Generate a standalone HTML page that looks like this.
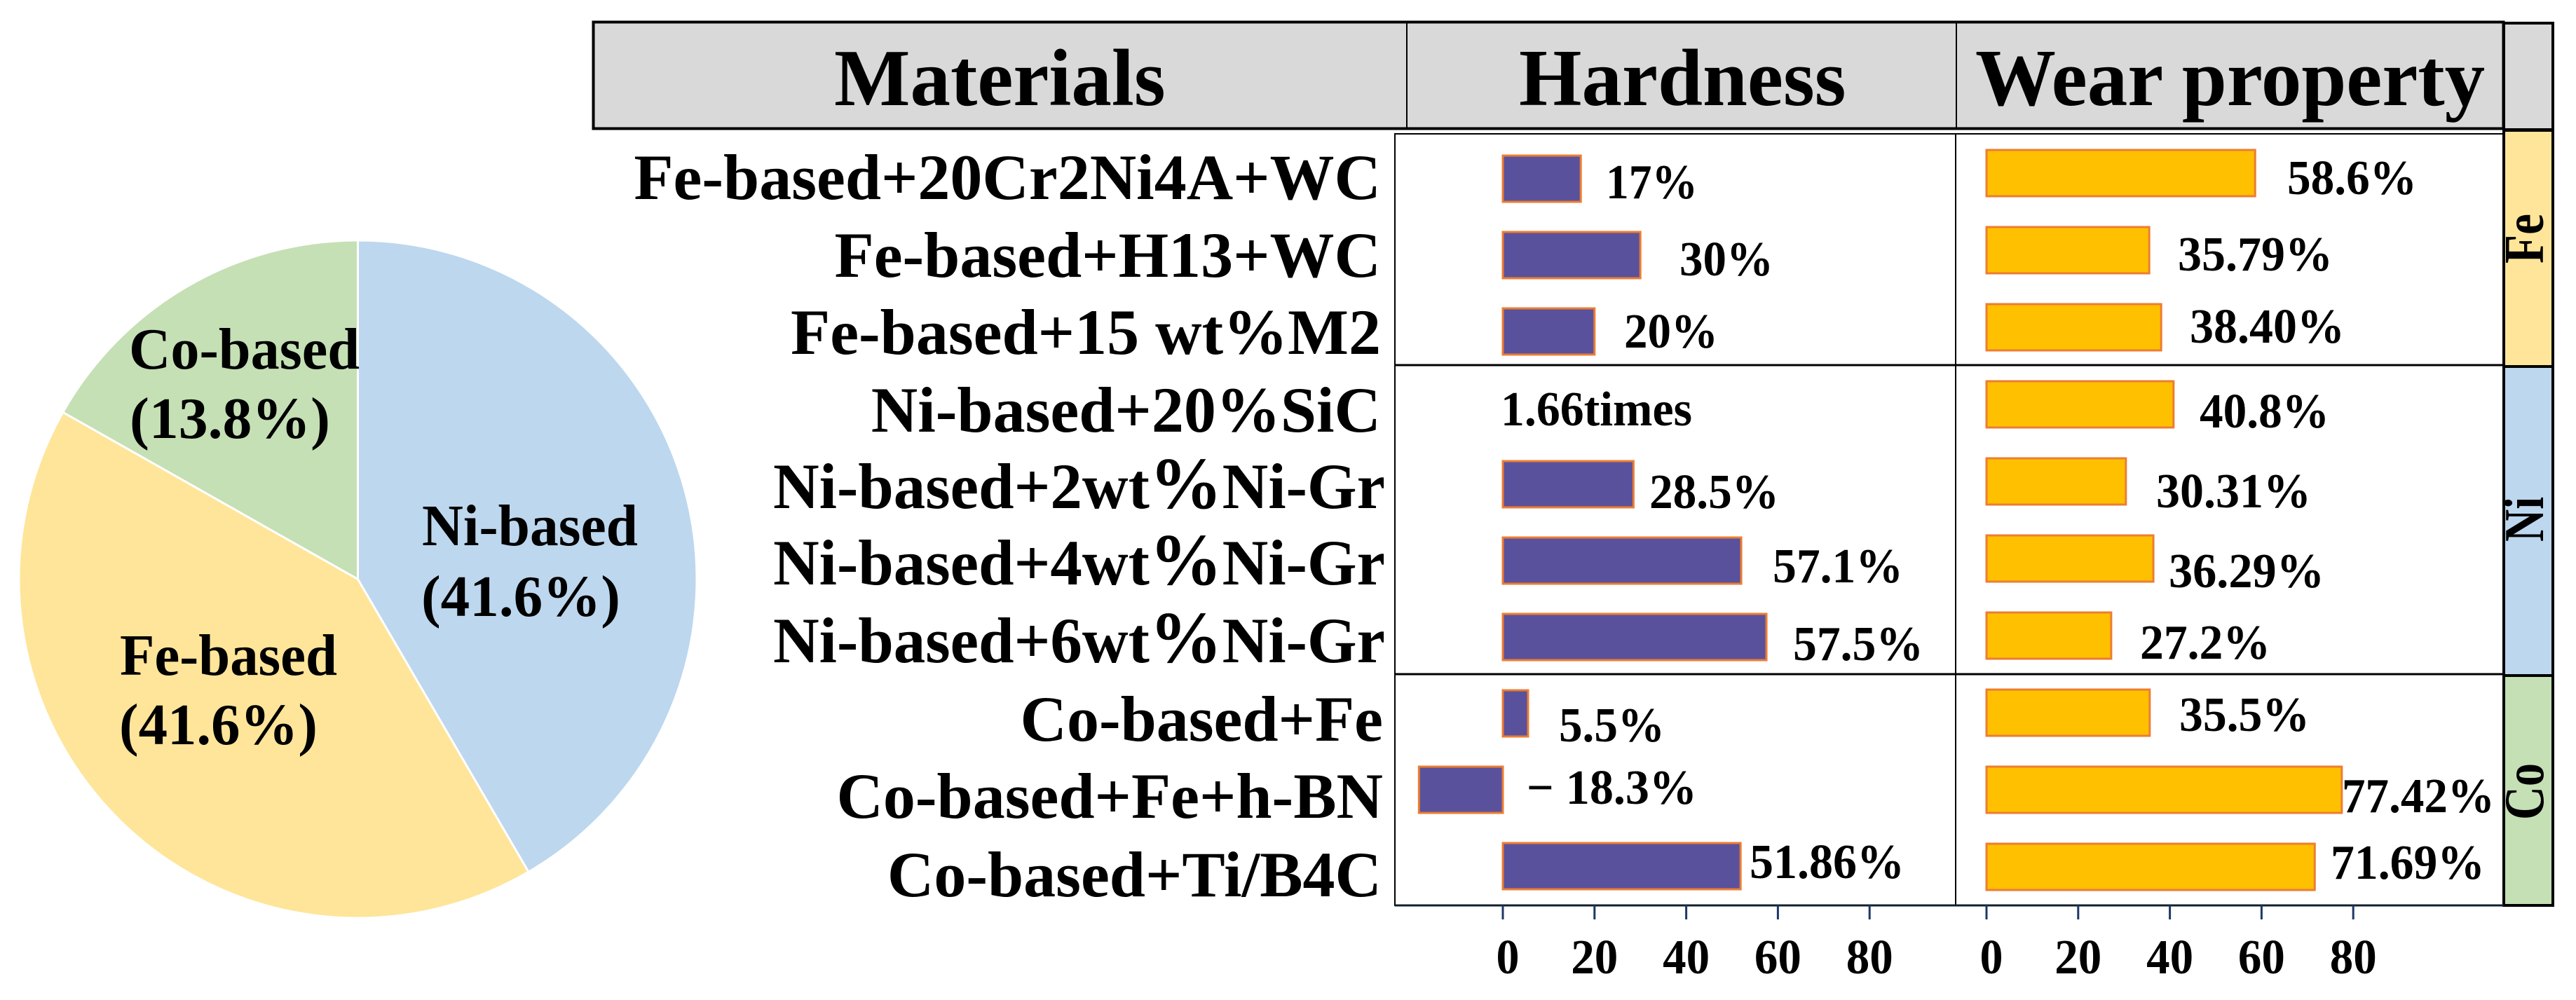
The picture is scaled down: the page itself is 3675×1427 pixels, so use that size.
<!DOCTYPE html>
<html lang="en">
<head>
<meta charset="utf-8">
<title>Materials hardness and wear property chart</title>
<style>
html,body{margin:0;padding:0;background:#fff;}
svg{display:block;}
text{font-family:"Liberation Serif","Noto Serif CJK SC",serif;font-weight:bold;fill:#000;}
.hdr{font-size:115px;}
.row{font-size:92px;text-anchor:end;}
.val{font-size:70px;}
.pl{font-size:84px;}
.tag{font-size:80px;}
</style>
</head>
<body>
<svg id="chart" xmlns="http://www.w3.org/2000/svg" width="3675" height="1427" viewBox="0 0 3675 1427">
  <g id="pie"></g>
  <g>
    <text class="pl" x="602" y="778" textLength="308" lengthAdjust="spacingAndGlyphs">Ni-based</text>
    <text class="pl" x="601" y="879" textLength="284" lengthAdjust="spacingAndGlyphs">(41.6%)</text>
    <text class="pl" x="171" y="963" textLength="310" lengthAdjust="spacingAndGlyphs">Fe-based</text>
    <text class="pl" x="170" y="1062" textLength="283" lengthAdjust="spacingAndGlyphs">(41.6%)</text>
    <text class="pl" x="184" y="526" textLength="329" lengthAdjust="spacingAndGlyphs">Co-based</text>
    <text class="pl" x="185" y="625" textLength="286" lengthAdjust="spacingAndGlyphs">(13.8%)</text>
  </g>

  <g>
    <rect x="846.5" y="31.5" width="2725" height="152" fill="#d9d9d9" stroke="#000" stroke-width="4"/>
    <line x1="2007" y1="31" x2="2007" y2="184" stroke="#000" stroke-width="2"/>
    <line x1="2791" y1="31" x2="2791" y2="184" stroke="#000" stroke-width="2"/>
    <text class="hdr" x="1190" y="150">Materials</text>
    <text class="hdr" x="2167" y="150">Hardness</text>
    <text class="hdr" x="2818" y="150">Wear property</text>
  </g>

  <g>
    <rect x="3572" y="33" width="70" height="152" fill="#d9d9d9" stroke="#000" stroke-width="4"/>
    <rect x="3572" y="186" width="70" height="337" fill="#fee599" stroke="#000" stroke-width="4"/>
    <rect x="3572" y="523" width="70" height="441" fill="#bdd7ee" stroke="#000" stroke-width="4"/>
    <rect x="3572" y="964" width="70" height="328" fill="#c5e0b4" stroke="#000" stroke-width="4"/>
    <text class="tag" transform="translate(3628,376) rotate(-90)" textLength="71" lengthAdjust="spacingAndGlyphs">Fe</text>
    <text class="tag" transform="translate(3628,773) rotate(-90)" textLength="64" lengthAdjust="spacingAndGlyphs">Ni</text>
    <text class="tag" transform="translate(3628,1170) rotate(-90)" textLength="81" lengthAdjust="spacingAndGlyphs">Co</text>
  </g>

  <g>
    <line x1="1990" y1="191" x2="3572" y2="191" stroke="#000" stroke-width="2"/>
    <line x1="1990" y1="190" x2="1990" y2="1293" stroke="#000" stroke-width="2"/>
    <line x1="2790" y1="190" x2="2790" y2="1293" stroke="#000" stroke-width="2"/>
    <line x1="1990" y1="521" x2="3572" y2="521" stroke="#000" stroke-width="3"/>
    <line x1="1990" y1="962" x2="3572" y2="962" stroke="#000" stroke-width="3"/>
    <line x1="1990" y1="1292" x2="3572" y2="1292" stroke="#10202f" stroke-width="3"/>
  </g>

  <g>
    <text class="row" x="1970" y="284">Fe-based+20Cr2Ni4A+WC</text>
    <text class="row" x="1970" y="395">Fe-based+H13+WC</text>
    <text class="row" x="1970" y="505">Fe-based+15 wt%M2</text>
    <text class="row" x="1970" y="616">Ni-based+20%SiC</text>
    <text class="row" x="1976" y="725" textLength="873" lengthAdjust="spacingAndGlyphs">Ni-based+2wt<tspan font-size="105">%</tspan>Ni-Gr</text>
    <text class="row" x="1976" y="834" textLength="873" lengthAdjust="spacingAndGlyphs">Ni-based+4wt<tspan font-size="105">%</tspan>Ni-Gr</text>
    <text class="row" x="1976" y="945" textLength="873" lengthAdjust="spacingAndGlyphs">Ni-based+6wt<tspan font-size="105">%</tspan>Ni-Gr</text>
    <text class="row" x="1973" y="1057">Co-based+Fe</text>
    <text class="row" x="1973" y="1167">Co-based+Fe+h-BN</text>
    <text class="row" x="1971" y="1279">Co-based+Ti/B4C</text>
  </g>

  <g id="hardnessBars"></g>
  <g id="wearBars"></g>
  <g id="axes"></g>

  <g>
    <text class="val" x="2291" y="283" textLength="131" lengthAdjust="spacingAndGlyphs">17%</text>
    <text class="val" x="2396" y="393" textLength="134" lengthAdjust="spacingAndGlyphs">30%</text>
    <text class="val" x="2317" y="496" textLength="134" lengthAdjust="spacingAndGlyphs">20%</text>
    <text class="val" x="2141" y="607" textLength="273" lengthAdjust="spacingAndGlyphs">1.66times</text>
    <text class="val" x="2353" y="725" textLength="185" lengthAdjust="spacingAndGlyphs">28.5%</text>
    <text class="val" x="2529" y="831" textLength="186" lengthAdjust="spacingAndGlyphs">57.1%</text>
    <text class="val" x="2558" y="942" textLength="186" lengthAdjust="spacingAndGlyphs">57.5%</text>
    <text class="val" x="2224" y="1058" textLength="151" lengthAdjust="spacingAndGlyphs">5.5%</text>
    <text class="val" x="2178" y="1147" textLength="243" lengthAdjust="spacingAndGlyphs">− 18.3%</text>
    <text class="val" x="2496" y="1253" textLength="221" lengthAdjust="spacingAndGlyphs">51.86%</text>
  </g>
  <g>
    <text class="val" x="3263" y="277" textLength="185" lengthAdjust="spacingAndGlyphs">58.6%</text>
    <text class="val" x="3107" y="386" textLength="221" lengthAdjust="spacingAndGlyphs">35.79%</text>
    <text class="val" x="3124" y="489" textLength="221" lengthAdjust="spacingAndGlyphs">38.40%</text>
    <text class="val" x="3138" y="610" textLength="185" lengthAdjust="spacingAndGlyphs">40.8%</text>
    <text class="val" x="3076" y="724" textLength="221" lengthAdjust="spacingAndGlyphs">30.31%</text>
    <text class="val" x="3094" y="838" textLength="222" lengthAdjust="spacingAndGlyphs">36.29%</text>
    <text class="val" x="3053" y="940" textLength="186" lengthAdjust="spacingAndGlyphs">27.2%</text>
    <text class="val" x="3109" y="1043" textLength="186" lengthAdjust="spacingAndGlyphs">35.5%</text>
    <text class="val" x="3341" y="1159" textLength="218" lengthAdjust="spacingAndGlyphs">77.42%</text>
    <text class="val" x="3325" y="1254" textLength="220" lengthAdjust="spacingAndGlyphs">71.69%</text>
  </g>
</svg>
<script>
const pieCategories = ['ni', 'fe', 'co'];
const pieValues = [41.6, 41.6, 16.8];
const pieColors = ['#bdd7ee', '#fee599', '#c5e0b4'];

const hardnessValues = [17, 30, 20, null, 28.5, 52, 57.5, 5.5, -18.3, 51.86];
const wearValues = [58.6, 35.5, 38.1, 40.8, 30.4, 36.4, 27.2, 35.6, 77.5, 71.6];
const tickValues = [0, 20, 40, 60, 80];

const NS = 'http://www.w3.org/2000/svg';
const UNIT = 6.54;
const BAR_H = 66;
function hardnessX(v) { return 2144 + v * UNIT; }
function wearX(v) { return 2834 + v * UNIT; }
function hardnessRowY(i) { return 255 + 109 * i; }
function wearRowY(i) { return 247 + 110 * i; }

function make(tag, parent) {
  const el = document.createElementNS(NS, tag);
  parent.appendChild(el);
  return el;
}

// Pie: clockwise from 12 o'clock
const pieGroup = document.getElementById('pie');
const pieCx = 510.5, pieCy = 826.5, pieR = 483.5;
const pieTotal = pieValues.reduce(function (a, b) { return a + b; }, 0);
let pieAngle = 0;
pieValues.forEach(function (v, i) {
  const a0 = pieAngle;
  const a1 = pieAngle + v / pieTotal * 2 * Math.PI;
  pieAngle = a1;
  const p = make('path', pieGroup);
  const large = a1 - a0 > Math.PI ? 1 : 0;
  p.setAttribute('d', 'M' + pieCx + ' ' + pieCy +
    'L' + (pieCx + pieR * Math.sin(a0)) + ' ' + (pieCy - pieR * Math.cos(a0)) +
    'A' + pieR + ' ' + pieR + ' 0 ' + large + ' 1 ' +
    (pieCx + pieR * Math.sin(a1)) + ' ' + (pieCy - pieR * Math.cos(a1)) + 'Z');
  p.setAttribute('fill', pieColors[i]);
  p.setAttribute('stroke', '#fff');
  p.setAttribute('stroke-width', '3');
  
  
});

// Bars
function drawBars(groupId, values, xFn, rowFn, fill, prefix) {
  const g = document.getElementById(groupId);
  values.forEach(function (v, i) {
    if (v === null) return;
    const r = make('rect', g);
    r.setAttribute('x', Math.min(xFn(0), xFn(v)));
    r.setAttribute('y', rowFn(i) - BAR_H / 2);
    r.setAttribute('width', Math.abs(xFn(v) - xFn(0)));
    r.setAttribute('height', BAR_H);
    r.setAttribute('fill', fill);
    r.setAttribute('stroke', '#ed7d31');
    r.setAttribute('stroke-width', '3');
    
    
  });
}
drawBars('hardnessBars', hardnessValues, hardnessX, hardnessRowY, '#5a519d', 'hardness');
drawBars('wearBars', wearValues, wearX, wearRowY, '#ffc000', 'wear');

// Axes
function drawAxis(xFn, prefix) {
  const g = document.getElementById('axes');
  tickValues.forEach(function (t) {
    const l = make('line', g);
    l.setAttribute('x1', xFn(t));
    l.setAttribute('x2', xFn(t));
    l.setAttribute('y1', 1292);
    l.setAttribute('y2', 1312);
    l.setAttribute('stroke', '#1f3864');
    l.setAttribute('stroke-width', '3');
    
    
    const s = make('text', g);
    s.setAttribute('x', xFn(t) + (t === 0 ? 7 : 0));
    s.setAttribute('y', 1389);
    s.setAttribute('text-anchor', 'middle');
    s.setAttribute('font-size', '70');
    s.setAttribute('textLength', t === 0 ? '33' : '67');
    s.setAttribute('lengthAdjust', 'spacingAndGlyphs');
    
    
    s.textContent = String(t);
  });
}
drawAxis(hardnessX, 'hardness');
drawAxis(wearX, 'wear');
</script>
</body>
</html>
